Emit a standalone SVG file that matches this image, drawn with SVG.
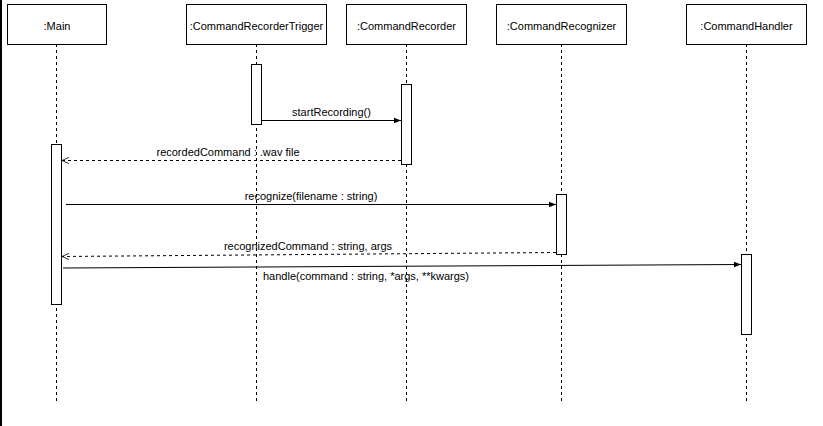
<svg xmlns="http://www.w3.org/2000/svg" width="823" height="426" viewBox="0 0 823 426">
<defs>
<style>
text{font-family:"Liberation Sans",Arial,sans-serif;font-size:11px;fill:#000}
.box{fill:#fff;stroke:#000;stroke-width:1}
.life{stroke:#000;stroke-width:1;stroke-dasharray:3,3;fill:none}
.act{fill:#fff;stroke:#000;stroke-width:1}
.msg{stroke:#000;stroke-width:1;fill:none}
.ret{stroke:#000;stroke-width:1;stroke-dasharray:3,3;fill:none}
</style>
<marker id="filled" viewBox="0 0 10 10" refX="10" refY="5" markerWidth="7" markerHeight="7" orient="auto" markerUnits="userSpaceOnUse"><path d="M0,1 L10,5 L0,9 Z" fill="#000"/></marker>
<marker id="open" viewBox="0 0 10 10" refX="9" refY="5" markerWidth="8" markerHeight="8" orient="auto" markerUnits="userSpaceOnUse"><path d="M0,1 L9,5 L0,9" fill="none" stroke="#000" stroke-width="1"/></marker>
</defs>
<rect width="823" height="426" fill="#fff"/>
<line x1="1" y1="0" x2="1" y2="426" stroke="#000" stroke-width="2"/>
<g id="main">
<line class="life" x1="56.5" y1="44" x2="56.5" y2="401"/>
<rect class="box" x="7.5" y="4.5" width="99" height="40"/>
<text x="57" y="30" text-anchor="middle">:Main</text>
<rect class="act" x="51.5" y="144.5" width="10" height="160"/>
</g>
<g id="trigger">
<line class="life" x1="256.5" y1="44" x2="256.5" y2="401"/>
<rect class="box" x="186.5" y="4.5" width="140" height="40"/>
<text x="256.5" y="30" text-anchor="middle">:CommandRecorderTrigger</text>
<rect class="act" x="251.5" y="64.5" width="10" height="60"/>
</g>
<g id="recorder">
<line class="life" x1="406.5" y1="44" x2="406.5" y2="401"/>
<rect class="box" x="346.5" y="4.5" width="120" height="40"/>
<text x="406.5" y="30" text-anchor="middle">:CommandRecorder</text>
<rect class="act" x="401.5" y="84.5" width="10" height="80"/>
</g>
<g id="recognizer">
<line class="life" x1="561.5" y1="44" x2="561.5" y2="401"/>
<rect class="box" x="496.5" y="4.5" width="130" height="40"/>
<text x="561.5" y="30" text-anchor="middle">:CommandRecognizer</text>
<rect class="act" x="556.5" y="194.5" width="10" height="60"/>
</g>
<g id="handler">
<line class="life" x1="746.5" y1="44" x2="746.5" y2="401"/>
<rect class="box" x="686.5" y="4.5" width="120" height="40"/>
<text x="746.5" y="30" text-anchor="middle">:CommandHandler</text>
<rect class="act" x="741.5" y="254.5" width="10" height="80"/>
</g>
<g id="connectors">
<line class="msg" x1="262" y1="120.5" x2="401" y2="120.5" marker-end="url(#filled)"/>
<text x="331.5" y="116" text-anchor="middle">startRecording()</text>
<line class="ret" x1="401" y1="160.5" x2="62" y2="160.5" marker-end="url(#open)"/>
<text x="228" y="156" text-anchor="middle">recordedCommand : .wav file</text>
<line class="msg" x1="66" y1="204.5" x2="556" y2="204.5" marker-end="url(#filled)"/>
<text x="311" y="200" text-anchor="middle">recognize(filename : string)</text>
<line class="ret" x1="556" y1="252.5" x2="62" y2="256.5" marker-end="url(#open)"/>
<text x="308" y="250" text-anchor="middle">recognizedCommand : string, args</text>
<line class="msg" x1="63" y1="268" x2="741" y2="264.5" marker-end="url(#filled)"/>
<text x="366" y="280" text-anchor="middle">handle(command : string, *args, **kwargs)</text>
</g>
</svg>
